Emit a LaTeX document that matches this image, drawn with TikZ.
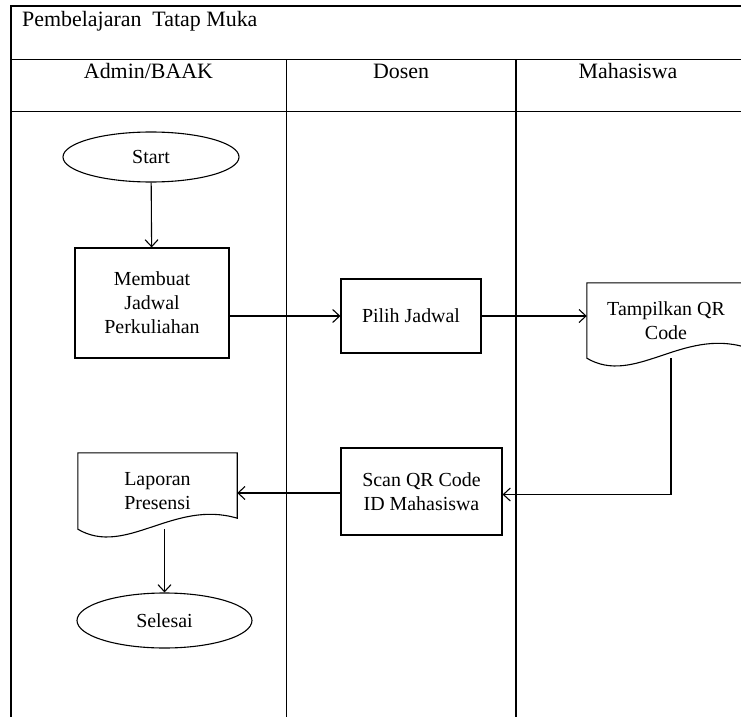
\documentclass[tikz,border=0pt]{standalone}
\usepackage{fontspec}
\setmainfont{Liberation Serif}
\usetikzlibrary{calc,arrows.meta,shapes.geometric}

% outline of a "document" flowchart symbol with a wavy bottom edge
\newcommand\docpath[1]{%
  \draw[line width=1.1bp] (#1.south west) -- (#1.north west) -- (#1.north east)
    -- ($(#1.south east)+(0,-11)$)
    .. controls ($(#1.south west)!0.6!(#1.south east)+(0,-30)$)
       and ($(#1.south west)!0.3!(#1.south east)+(0,28)$) .. (#1.south west) -- cycle;}

\begin{document}
\begin{tikzpicture}[x=1bp,y=-1bp,
  frame/.style={line width=1.1bp},
  lbl/.style={font=\fontsize{22}{26}\selectfont},
  boxtxt/.style={font=\fontsize{20}{24}\selectfont, align=center},
  proc/.style={boxtxt, draw, line width=1.1bp, inner sep=0pt},
  term/.style={boxtxt, draw, ellipse, line width=1.1bp, inner sep=0pt},
  docbox/.style={boxtxt, inner sep=0pt},
  arr/.style={line width=1.1bp, -{Straight Barb[length=7bp,width=13bp]}}]

\useasboundingbox (0,0) rectangle (741,717);
\clip (0,0) rectangle (741,717);
\fill[white] (0,0) rectangle (741,717);

% swimlane frame
\draw[frame] (11,717) -- (11,6) -- (760,6);
\draw[frame] (11,59.5) -- (760,59.5);
\draw[frame] (11,111.5) -- (760,111.5);
\draw[frame] (286.5,59.5) -- (286.5,717);
\draw[frame] (516,59.5) -- (516,717);

% titles
\node[lbl, anchor=base west, inner sep=0pt] (title) at (22,27) {Pembelajaran\ \ Tatap Muka};
\node[lbl, anchor=base, inner sep=0pt] (laneA) at (148.5,79) {Admin/BAAK};
\node[lbl, anchor=base, inner sep=0pt] (laneB) at (401,79) {Dosen};
\node[lbl, anchor=base, inner sep=0pt] (laneC) at (628,79) {Mahasiswa};

% flow elements
\node[term, minimum width=176bp, minimum height=50bp] (start) at (151,157) {Start};
\node[proc, minimum width=154bp, minimum height=110bp] (jadwal) at (152,303) {Membuat\\Jadwal\\Perkuliahan};
\node[proc, minimum width=140bp, minimum height=74bp] (pilih) at (411,316) {Pilih Jadwal};
\node[docbox, minimum width=158bp, minimum height=75bp] (tamp) at (666,320.5) {Tampilkan QR\\Code};
\docpath{tamp}
\node[proc, minimum width=161bp, minimum height=87bp] (scan) at (421.5,491.5) {Scan QR Code\\ID Mahasiswa};
\node[docbox, minimum width=159bp, minimum height=76bp] (lap) at (157.5,491) {Laporan\\Presensi};
\docpath{lap}
\node[term, minimum width=175bp, minimum height=55bp] (sel) at (164.5,620.5) {Selesai};

% connectors
\draw[arr] (start) -- (jadwal);
\draw[arr] (pilih.west -| jadwal.east) -- (pilih.west);
\draw[arr] (pilih.east) -- (pilih.east -| tamp.west);
\draw[arr] ([xshift=5bp]tamp.south) |- ([yshift=-3bp]scan.east);
\draw[arr] ([yshift=-1.5bp]scan.west) -- ([yshift=-1.5bp]scan.west -| lap.east);
\draw[arr] (lap.south -| sel.north) -- (sel.north);
\end{tikzpicture}
\end{document}
